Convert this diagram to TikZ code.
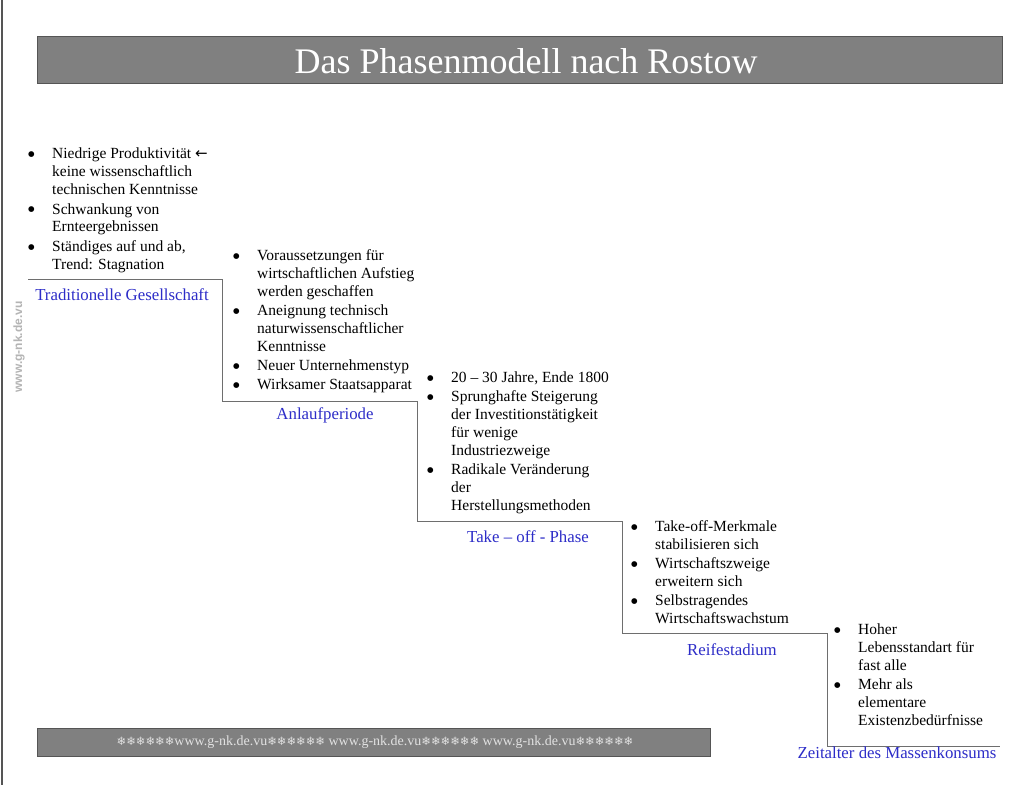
\documentclass[tikz,border=0pt]{standalone}
\usepackage{fontspec}
\setmainfont{Liberation Serif}
\newfontfamily\wmfont{Liberation Sans}
\newfontfamily\symfont{DejaVu Sans}
\definecolor{barfill}{RGB}{128,128,128}
\definecolor{barline}{RGB}{85,85,85}
\definecolor{stairline}{RGB}{110,110,110}
\definecolor{phaseblue}{RGB}{45,45,200}
\definecolor{wmgray}{RGB}{180,180,180}
\definecolor{footgray}{RGB}{225,225,225}
\newcommand{\blt}{\hspace*{1pt}\raisebox{2.2pt}{\symfont\fontsize{7.5}{7.5}\selectfont ●}}
\newcommand{\snow}{{\symfont\fontsize{11.5}{11.5}\selectfont ❄}}
\newcommand{\snows}{\snow\snow\snow\snow\snow\snow}
\tikzset{
  bar/.style={draw=barline, line width=0.8pt, fill=barfill, inner sep=0pt},
  stair/.style={draw=stairline, line width=1pt},
  phase/.style={text=phaseblue, font=\fontsize{16.8}{18}\selectfont, inner sep=0pt},
  block/.style={anchor=north west, inner sep=0pt, font=\fontsize{15.5}{17.8}\selectfont, text=black},
}
\begin{document}
\begin{tikzpicture}[x=1pt,y=-1pt]
\useasboundingbox (0,0) rectangle (1024,785);
\fill[white] (0,0) rectangle (1024,785);
% left page edge
\draw[draw=barline, line width=2pt] (1.5,0) -- (1.5,785);
% title bar
\node[bar, minimum width=965pt, minimum height=47pt, anchor=north west] (titlebar) at (37,36) {};
\node[text=white, font=\fontsize{36}{40}\selectfont, inner sep=0pt] (title) at (526,61) {Das Phasenmodell nach Rostow};
% footer bar
\node[bar, minimum width=673pt, minimum height=28pt, anchor=north west] (footbar) at (37,728) {};
\node[text=footgray, font=\fontsize{14}{16}\selectfont, inner sep=0pt] (foottext) at (375,742)
  {\snows www.g-nk.de.vu\snows{} www.g-nk.de.vu\snows{} www.g-nk.de.vu\snows};
% watermark
\node[text=wmgray, font=\wmfont\bfseries\fontsize{12}{14}\selectfont, rotate=90, inner sep=0pt] (wm) at (19,347) {www.g-nk.de.vu};
% staircase
\coordinate (s0) at (28,279);
\coordinate (s1) at (222,279);
\coordinate (s2) at (222,401);
\coordinate (s3) at (417,401);
\coordinate (s4) at (417,521);
\coordinate (s5) at (622,521);
\coordinate (s6) at (622,633);
\coordinate (s7) at (827,633);
\coordinate (s8) at (827,746);
\coordinate (s9) at (1000,746);
\draw[stair] (s0) -- (s1) -- (s2) -- (s3) -- (s4) -- (s5) -- (s6) -- (s7) -- (s8) -- (s9);
% phase labels
\node[phase] (p1) at (122,295) {Traditionelle Gesellschaft};
\node[phase] (p2) at (325,415) {Anlaufperiode};
\node[phase] (p3) at (528,537) {Take -- off - Phase};
\node[phase] (p4) at (732,650) {Reifestadium};
\node[phase] (p5) at (897,753) {Zeitalter des Massenkonsums};
% text blocks
\node[block] (b1) at (27,146) {\begin{tabular}{@{}p{25pt}@{}l@{}}
\blt & Niedrige Produktivität {\symfont\fontsize{15}{15}\selectfont ←}\\
 & keine wissenschaftlich\\
 & technischen Kenntnisse\\[2pt]
\blt & Schwankung von\\
 & Ernteergebnissen\\[2pt]
\blt & Ständiges auf und ab,\\
 & Trend: Stagnation
\end{tabular}};
\node[block] (b2) at (232,248) {\begin{tabular}{@{}p{25pt}@{}l@{}}
\blt & Voraussetzungen für\\
 & wirtschaftlichen Aufstieg\\
 & werden geschaffen\\[1.5pt]
\blt & Aneignung technisch\\
 & naturwissenschaftlicher\\
 & Kenntnisse\\[1.5pt]
\blt & Neuer Unternehmenstyp\\[1.5pt]
\blt & Wirksamer Staatsapparat
\end{tabular}};
\node[block] (b3) at (426,370) {\begin{tabular}{@{}p{25pt}@{}l@{}}
\blt & 20 -- 30 Jahre, Ende 1800\\[1.5pt]
\blt & Sprunghafte Steigerung\\
 & der Investitionstätigkeit\\
 & für wenige\\
 & Industriezweige\\[1.5pt]
\blt & Radikale Veränderung\\
 & der\\
 & Herstellungsmethoden
\end{tabular}};
\node[block] (b4) at (630,519) {\begin{tabular}{@{}p{25pt}@{}l@{}}
\blt & Take-off-Merkmale\\
 & stabilisieren sich\\[1.5pt]
\blt & Wirtschaftszweige\\
 & erweitern sich\\[1.5pt]
\blt & Selbstragendes\\
 & Wirtschaftswachstum
\end{tabular}};
\node[block] (b5) at (833,622) {\begin{tabular}{@{}p{25pt}@{}l@{}}
\blt & Hoher\\
 & Lebensstandart für\\
 & fast alle\\[1.5pt]
\blt & Mehr als\\
 & elementare\\
 & Existenzbedürfnisse
\end{tabular}};
\end{tikzpicture}
\end{document}
